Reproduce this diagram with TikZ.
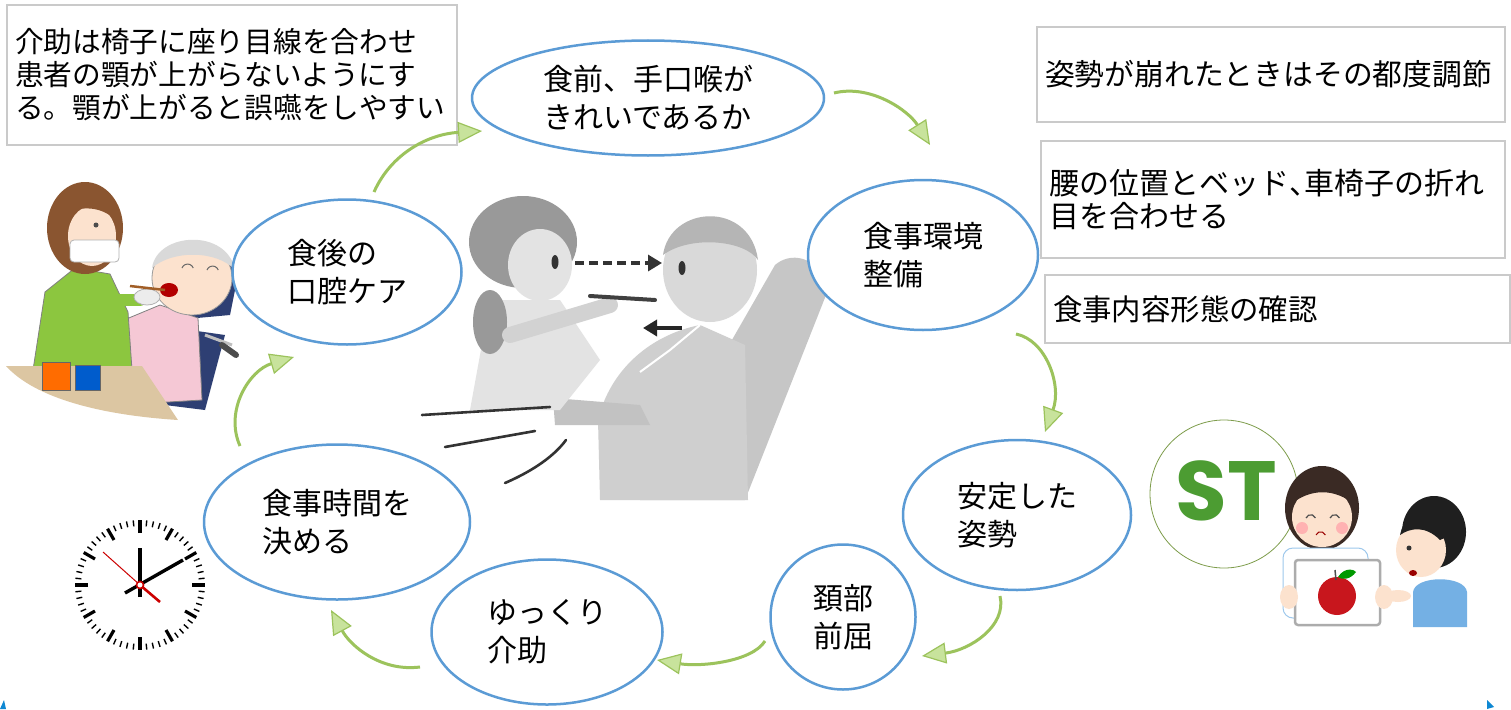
\documentclass[tikz,border=0pt]{standalone}
\usepackage{fontspec}
\newfontfamily\jp{Noto Sans CJK JP}
\newfontfamily\stfont{Poppins}
\usetikzlibrary{shapes.geometric,arrows.meta,calc}
\definecolor{ringblue}{HTML}{5B9BD5}
\definecolor{boxgray}{HTML}{CACACA}
\definecolor{flowgreen}{HTML}{9CC35C}
\definecolor{headgreen}{HTML}{C8E39C}
\definecolor{stgreen}{HTML}{4C9C32}
\definecolor{skin}{HTML}{FCE2CE}
\definecolor{nursegreen}{HTML}{8CC63F}
\definecolor{hairbrown}{HTML}{8A5530}
\definecolor{navy}{HTML}{2E3F73}
\definecolor{pinkwear}{HTML}{F5C8D5}
\definecolor{tablewood}{HTML}{DCC6A2}
\definecolor{applered}{HTML}{C8161D}
\definecolor{boyblue}{HTML}{74B0E4}
\definecolor{darkhair}{HTML}{3A2A24}
\newcommand\halfcomma{\makebox[15pt][l]{、}}
\begin{document}
\begin{tikzpicture}[x=1pt,y=-1pt,
  phase/.style={ellipse,draw=ringblue,line width=2.5pt,fill=white,inner sep=0pt,
    align=left,font=\jp\fontsize{30}{38}\selectfont},
  note/.style={rectangle,draw=boxgray,line width=2.2pt,fill=white,inner sep=0pt,
    align=left},
  flow/.style={draw=flowgreen,line width=3pt,
    -{Triangle[length=24pt,width=21pt,fill=headgreen,line width=1.2pt]}},
  sketchline/.style={draw=black!80,line width=2.6pt,line cap=round},
]
\useasboundingbox (0,0) rectangle (1511,709);
\fill[white] (0,0) rectangle (1511,709);

% ---------- central pencil sketch: caregiver feeding a seated patient ----------
% chair back
\fill[gray!45] (775,265) .. controls (790,252) and (815,255) .. (830,285)
  -- (745,500) -- (640,500) -- cycle;
% patient body and arm
\fill[gray!38] (700,325) -- (745,345) -- (748,500) -- (600,500) -- (598,420)
  .. controls (610,370) and (650,335) .. cycle;
\draw[white,line width=2pt] (700,325) -- (670,350) -- (640,372);
\fill[gray!48] (553,398) -- (640,405) -- (650,425) -- (555,425) -- cycle;
% patient head
\fill[gray!30] (710,270) ellipse[x radius=47,y radius=52];
\fill[gray!58] (663,255) .. controls (670,205) and (750,200) .. (758,260)
  .. controls (745,240) and (690,235) .. cycle;
\fill[black!80] (682,268) ellipse[x radius=3.5,y radius=7];
% caregiver
\fill[gray!22] (490,300) -- (560,300) -- (600,360) -- (560,410) -- (470,410) -- cycle;
\fill[gray!80] (523,242) ellipse[x radius=54,y radius=46];
\fill[gray!80] (490,322) ellipse[x radius=17,y radius=32];
\fill[gray!22] (540,265) ellipse[x radius=32,y radius=36];
\fill[black!80] (555,262) ellipse[x radius=3.5,y radius=7];
\draw[gray!35,line width=16pt,line cap=round] (510,335) -- (610,305);
% table edge and motion lines
\coordinate (t1) at (422,415); \coordinate (t2) at (550,407);
\coordinate (t3) at (445,447); \coordinate (t4) at (535,431);
\coordinate (t5) at (505,483); \coordinate (t6) at (566,440);
\draw[sketchline] (t1) -- (t2);
\draw[sketchline] (t3) -- (t4);
\draw[sketchline] (t5) .. controls (535,470) and (555,455) .. (t6);
% spoon
\coordinate (sp1) at (590,296); \coordinate (sp2) at (655,300);
\draw[black!75,line width=4pt,line cap=round] (sp1) -- (sp2);
% eye-line and swallow arrows
\coordinate (gazeA) at (575,263); \coordinate (gazeB) at (662,263);
\coordinate (backA) at (682,328); \coordinate (backB) at (643,328);
\draw[black!80,line width=3.2pt,dash pattern=on 9pt off 5pt,
  -{Triangle[length=14pt,width=16pt]}] (gazeA) -- (gazeB);
\draw[black!85,line width=4pt,-{Triangle[length=14pt,width=16pt]}] (backA) -- (backB);

% ---------- oral care illustration ----------
% wheelchair
\fill[navy] (158,262) .. controls (170,235) and (230,240) .. (238,275)
  -- (230,315) -- (175,320) -- cycle;
\fill[navy] (190,330) -- (225,335) -- (205,410) -- (165,405) -- cycle;
\draw[gray!50,line width=3pt] (205,335) -- (232,345);
\draw[black!70,line width=6pt,line cap=round] (222,345) -- (236,355);
% patient
\fill[pinkwear,draw=black!50,line width=0.8pt] (112,325) -- (160,305) -- (198,318)
  -- (202,400) -- (118,405) -- cycle;
\fill[skin,draw=black!40,line width=0.8pt] (192,278) ellipse[x radius=40,y radius=37];
\fill[gray!30] (152,268) .. controls (157,232) and (227,228) .. (235,270)
  .. controls (217,250) and (172,250) .. cycle;
\fill[red!70!black] (169,290) ellipse[x radius=9,y radius=7];
\draw[black!60,line width=1pt] (182,268) arc[start angle=200,end angle=340,radius=6];
\draw[black!60,line width=1pt] (207,270) arc[start angle=200,end angle=340,radius=6];
% caregiver
\fill[nursegreen,draw=black!50,line width=0.8pt] (33,370) -- (45,292) -- (75,268)
  -- (110,274) -- (128,312) -- (132,370) -- cycle;
\fill[hairbrown] (85,228) ellipse[x radius=38,y radius=46];
\fill[skin] (92,236) ellipse[x radius=24,y radius=30];
\fill[hairbrown] (62,215) .. controls (70,180) and (115,185) .. (120,225)
  .. controls (105,205) and (80,205) .. cycle;
\fill[white,draw=gray!60,line width=0.8pt,rounded corners=4pt] (70,240) rectangle (119,262);
\fill[black!70] (96,225) circle[radius=2.5];
\draw[nursegreen,line width=12pt,line cap=round] (110,300) -- (140,300);
\fill[gray!15,draw=gray!60,line width=0.8pt] (147,297) ellipse[x radius=13,y radius=8];
\draw[hairbrown!80!orange,line width=2.5pt] (130,286) -- (165,290);
% table and cups
\fill[tablewood] (6,366) -- (142,366) -- (178,420)
  .. controls (100,415) and (35,398) .. cycle;
\fill[orange!85!red,draw=black!60,line width=0.8pt] (42,362) rectangle (70,390);
\fill[blue!55!cyan!80!black,draw=black!60,line width=0.8pt] (75,365) rectangle (100,390);

% ---------- clock ----------
\coordinate (clk) at (140,585);
\foreach \i in {0,...,59}{
  \pgfmathtruncatemacro{\m}{mod(\i,5)}
  \ifnum\m=0
    \draw[black,line width=3.2pt] (clk) ++(\i*6:52) -- ++(\i*6:13);
  \else
    \draw[black,line width=1.4pt] (clk) ++(\i*6:59) -- ++(\i*6:6);
  \fi
}
\coordinate (hrA) at (140,597); \coordinate (hrB) at (140,548);
\coordinate (mnA) at (125,593); \coordinate (mnB) at (183,560);
\coordinate (scA) at (103,552); \coordinate (scB) at (160,602);
\draw[black,line width=4pt] (hrA) -- (hrB);
\draw[black,line width=3.4pt] (mnA) -- (mnB);
\draw[red!80!black,line width=1pt] (scA) -- (clk);
\draw[red!80!black,line width=2.6pt] (clk) -- (scB);
\filldraw[fill=white,draw=red!80!black,line width=1.6pt] (clk) circle[radius=3.5];

% ---------- speech therapist ----------
\node[circle,draw=flowgreen!80!black,line width=0.8pt,minimum size=148pt,inner sep=0pt]
  (stc) at (1224,494) {};
\node[font=\stfont\bfseries\fontsize{84}{84}\selectfont,text=stgreen] (st) at (1226,491) {ST};
% therapist
\fill[darkhair] (1322,508) ellipse[x radius=37,y radius=42];
\fill[white,draw=boyblue!70,line width=1pt,rounded corners=10pt] (1283,548) rectangle (1368,618);
\fill[skin] (1322,517) ellipse[x radius=30,y radius=30];
\fill[darkhair] (1290,505) .. controls (1293,468) and (1352,468) .. (1355,505)
  .. controls (1335,488) and (1310,488) .. cycle;
\fill[red!30] (1302,528) circle[radius=6]; \fill[red!30] (1342,528) circle[radius=6];
\draw[black!70,line width=1.2pt] (1306,518) arc[start angle=200,end angle=340,radius=5];
\draw[black!70,line width=1.2pt] (1330,518) arc[start angle=200,end angle=340,radius=5];
\draw[red!60!black,line width=1pt] (1316,535) arc[start angle=200,end angle=340,radius=5];
% picture card
\fill[white,draw=gray!65,line width=2.5pt,rounded corners=3pt] (1295,560) rectangle (1380,625);
\fill[applered] (1337,596) circle[radius=19];
\draw[black!70,line width=1.5pt] (1336,580) -- (1335,570);
\fill[green!60!black] (1338,577) .. controls (1345,566) and (1355,570) .. (1356,572)
  .. controls (1350,580) and (1342,580) .. cycle;
\fill[skin] (1289,597) ellipse[x radius=9,y radius=12];
\fill[skin] (1384,597) ellipse[x radius=9,y radius=12];
% child
\fill[boyblue] (1413,627) -- (1413,592) .. controls (1415,575) and (1465,575) .. (1467,592)
  -- (1467,627) -- cycle;
\fill[black!88] (1434,532) ellipse[x radius=32,y radius=36];
\fill[skin] (1421,550) ellipse[x radius=25,y radius=27];
\fill[black!88] (1400,535) .. controls (1405,505) and (1450,500) .. (1462,530)
  -- (1440,540) .. controls (1425,525) and (1410,528) .. cycle;
\fill[black!80] (1409,548) circle[radius=2.5];
\fill[red!60!black] (1413,573) ellipse[x radius=4,y radius=3];
\fill[skin] (1398,596) ellipse[x radius=13,y radius=6];

% ---------- note boxes ----------
\node[note,minimum width=450pt,minimum height=140pt,text width=434pt,
  font=\jp\fontsize{28.7}{33}\selectfont] (n1) at (232,75)
  {介助は椅子に座り目線を合わせ\\患者の顎が上がらないようにす\\る。顎が上がると誤嚥をしやすい};
\node[note,minimum width=468pt,minimum height=95pt,text width=452pt,
  font=\jp\fontsize{29.8}{33}\selectfont] (n2) at (1271,74.5)
  {姿勢が崩れたときはその都度調節};
\node[note,minimum width=464pt,minimum height=117pt,text width=448pt,
  font=\jp\fontsize{30}{33}\selectfont] (n3) at (1273,199.5)
  {腰の位置とベッド\halfcomma 車椅子の折れ\\目を合わせる};
\node[note,minimum width=465pt,minimum height=68pt,text width=449pt,
  font=\jp\fontsize{29.4}{33}\selectfont] (n4) at (1277.5,309)
  {食事内容形態の確認};

% ---------- meal-care cycle ----------
\node[phase,minimum width=352pt,minimum height=115pt] (e1) at (648,98)
  {食前、手口喉が\\きれいであるか};
\node[phase,minimum width=230pt,minimum height=150pt] (e2) at (923,255)
  {食事環境\\整備};
\node[phase,minimum width=228pt,minimum height=150pt] (e3) at (1017,515)
  {安定した\\姿勢};
\node[phase,minimum width=145pt,minimum height=145pt] (e4) at (843,617)
  {頚部\\前屈};
\node[phase,minimum width=231pt,minimum height=145pt] (e5) at (547,632)
  {ゆっくり\\介助};
\node[phase,minimum width=266pt,minimum height=155pt] (e6) at (337,522)
  {食事時間を\\決める};
\node[phase,minimum width=229pt,minimum height=145pt] (e7) at (347,272)
  {食後の\\口腔ケア};

% cycle arrows between the stages
\coordinate (a7) at (374,192);   \coordinate (b1) at (482,131);
\coordinate (a1) at (834,93);    \coordinate (b2) at (930,145);
\coordinate (a2) at (1016,334);  \coordinate (b3) at (1045,432);
\coordinate (a3) at (1000,596);  \coordinate (b4) at (922,656);
\coordinate (a4) at (765,641);   \coordinate (b5) at (657,660);
\coordinate (a5) at (420,667);   \coordinate (b6) at (331,610);
\coordinate (a6) at (240,446);   \coordinate (b7) at (294,357);
\draw[flow] (a7) .. controls (392,152) and (430,134) .. (b1);
\draw[flow] (a1) .. controls (870,84) and (908,110) .. (b2);
\draw[flow] (a2) .. controls (1046,340) and (1062,385) .. (b3);
\draw[flow] (a3) .. controls (1007,626) and (970,650) .. (b4);
\draw[flow] (a4) .. controls (752,662) and (700,667) .. (b5);
\draw[flow] (a5) .. controls (380,672) and (350,645) .. (b6);
\draw[flow] (a6) .. controls (224,410) and (250,370) .. (b7);

% corner marks
\fill[cyan!70!blue] (0,709) -- (4,700) -- (6,709) -- cycle;
\fill[cyan!70!blue] (1487,700) -- (1494,707) -- (1487,709) -- cycle;
\end{tikzpicture}
\end{document}
